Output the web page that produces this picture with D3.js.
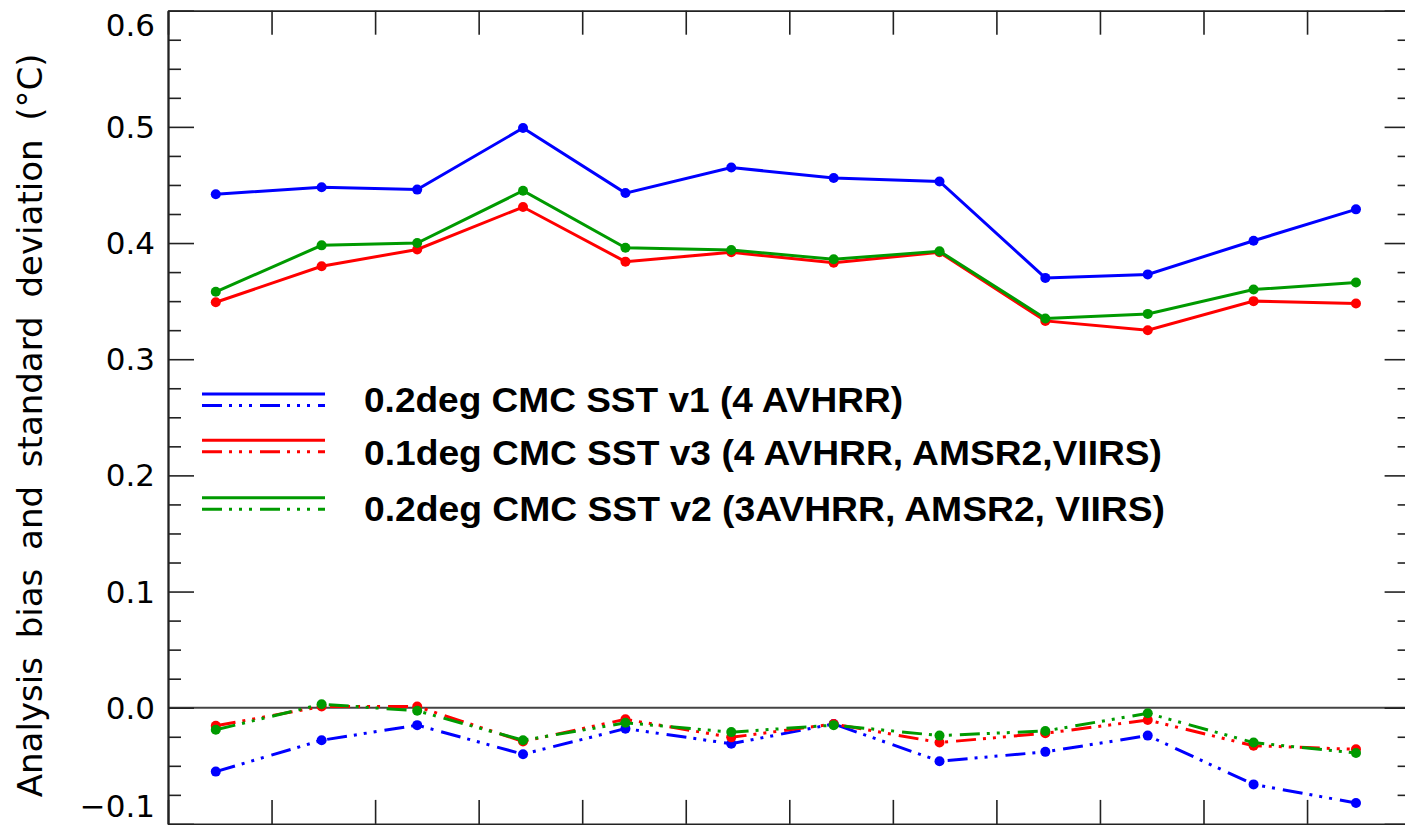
<!DOCTYPE html>
<html>
<head>
<meta charset="utf-8">
<script src="https://cdn.jsdelivr.net/npm/d3@7"></script>
<style>
  html, body { margin: 0; padding: 0; background: #fff; }
  svg { display: block; }
</style>
</head>
<body>
<svg id="chart" width="1405" height="825"></svg>
<script>
// ---- data (day of year of each monthly value) ----
const days = [15, 46, 74, 105, 135, 166, 196, 227, 258, 288, 319, 349];
const stdV1 = [0.442, 0.448, 0.446, 0.499, 0.443, 0.465, 0.456, 0.453, 0.370, 0.373, 0.402, 0.429];
const stdV3 = [0.349, 0.380, 0.3945, 0.431, 0.384, 0.392, 0.383, 0.392, 0.333, 0.325, 0.350, 0.348];
const stdV2 = [0.358, 0.398, 0.400, 0.445, 0.396, 0.394, 0.386, 0.393, 0.335, 0.339, 0.360, 0.366];
const biasV1 = [-0.055, -0.028, -0.015, -0.040, -0.018, -0.031, -0.014, -0.046, -0.038, -0.024, -0.066, -0.082];
const biasV3 = [-0.0155, 0.001, 0.001, -0.029, -0.010, -0.0255, -0.014, -0.030, -0.022, -0.0106, -0.0327, -0.0358];
const biasV2 = [-0.019, 0.003, -0.0026, -0.028, -0.013, -0.021, -0.015, -0.024, -0.020, -0.0048, -0.030, -0.039];
const seriesNames = [
  "0.2deg CMC SST v1 (4 AVHRR)",
  "0.1deg CMC SST v3 (4 AVHRR, AMSR2,VIIRS)",
  "0.2deg CMC SST v2 (3AVHRR, AMSR2, VIIRS)"
];
const yTickValues = [-0.1, 0.0, 0.1, 0.2, 0.3, 0.4, 0.5, 0.6];
const yTitle = "Analysis bias and standard deviation (°C)";

// ---- layout / style ----
const colors = ["#0000ff", "#ff0000", "#009a00"];
const dashPattern = "20,7,3,7,3,7,3,8";
const L = 168, R = 1410.6, T = 10.7, B = 823.9;
const axisColor = "#222";
const legTextWidth = [539, 798, 801];

const svg = d3.select("#chart");
const x = d3.scaleLinear().domain([1, 365]).range([L, R]);
const y = d3.scaleLinear().domain([-0.1, 0.6]).range([B, T]);

const xMajor = d3.range(0, 13).map(k => 1 + k * 364 / 12);
const yMinor = d3.range(-0.1, 0.6001, 0.025);

// zero line
svg.append("line")
  .attr("x1", L).attr("x2", R).attr("y1", y(0)).attr("y2", y(0))
  .attr("stroke", "#444").attr("stroke-width", 2);

// axes (ticks inward)
const minorVals = yMinor.filter((v, i) => i % 4 !== 0);
const gLeft = svg.append("g").attr("transform", `translate(${L},0)`)
  .call(d3.axisRight(y).tickValues(minorVals).tickSize(13).tickSizeOuter(0).tickFormat(""));
const gLeftMaj = svg.append("g").attr("transform", `translate(${L},0)`)
  .call(d3.axisRight(y).tickValues(yTickValues).tickSize(26).tickSizeOuter(0).tickFormat(""));
const gRight = svg.append("g").attr("transform", `translate(${R},0)`)
  .call(d3.axisLeft(y).tickValues(minorVals).tickSize(13).tickSizeOuter(0).tickFormat(""));
const gRightMaj = svg.append("g").attr("transform", `translate(${R},0)`)
  .call(d3.axisLeft(y).tickValues(yTickValues).tickSize(26).tickSizeOuter(0).tickFormat(""));
const gBottom = svg.append("g").attr("transform", `translate(0,${B})`)
  .call(d3.axisTop(x).tickValues(xMajor).tickSize(24).tickSizeOuter(0).tickFormat(""));
const gTop = svg.append("g").attr("transform", `translate(0,${T})`)
  .call(d3.axisBottom(x).tickValues(xMajor).tickSize(24).tickSizeOuter(0).tickFormat(""));
[gLeft, gLeftMaj, gRight, gRightMaj, gBottom, gTop].forEach(g => {
  g.selectAll("line").attr("stroke", axisColor).attr("stroke-width", 1.6);
  g.select(".domain").attr("stroke", axisColor).attr("stroke-width", 1.8);
});

// y tick labels (end labels nudged inside, as in the original)
const labelShift = d => (d >= 0.6 - 1e-9 ? 14 : d <= -0.1 + 1e-9 ? -18 : 0);
svg.append("g").selectAll("text").data(yTickValues).join("text")
  .attr("x", 155).attr("y", d => y(d) + 11 + labelShift(d))
  .attr("text-anchor", "end")
  .attr("font-family", "DejaVu Sans, sans-serif")
  .attr("font-size", 31)
  .attr("fill", "#000")
  .text(d => d3.format(".1f")(d));

// y title
svg.append("text")
  .attr("transform", `translate(42,${(T + B) / 2 + 8}) rotate(-90)`)
  .attr("text-anchor", "middle")
  .attr("font-family", "DejaVu Sans, sans-serif")
  .attr("font-size", 34)
  .attr("word-spacing", 8)
  .attr("fill", "#000")
  .text(yTitle);

// series
const stdSeries = [stdV1, stdV3, stdV2];
const biasSeries = [biasV1, biasV3, biasV2];
const line = d3.line().x((d, i) => x(days[i])).y(d => y(d));
const plot = svg.append("g");
biasSeries.forEach((s, k) => {
  plot.append("path").datum(s).attr("d", line)
    .attr("fill", "none").attr("stroke", colors[k]).attr("stroke-width", 3)
    .attr("stroke-dasharray", dashPattern);
  plot.append("g").selectAll("circle").data(s).join("circle")
    .attr("cx", (d, i) => x(days[i])).attr("cy", d => y(d)).attr("r", 5)
    .attr("fill", colors[k]);
});
stdSeries.forEach((s, k) => {
  plot.append("path").datum(s).attr("d", line)
    .attr("fill", "none").attr("stroke", colors[k]).attr("stroke-width", 3);
  plot.append("g").selectAll("circle").data(s).join("circle")
    .attr("cx", (d, i) => x(days[i])).attr("cy", d => y(d)).attr("r", 5)
    .attr("fill", colors[k]);
});

// legend
const legLineY = [394, 440.3, 497.7];
const legTextY = [412, 465, 521];
const leg = svg.append("g");
seriesNames.forEach((name, k) => {
  leg.append("line").attr("x1", 202).attr("x2", 325)
    .attr("y1", legLineY[k]).attr("y2", legLineY[k])
    .attr("stroke", colors[k]).attr("stroke-width", 3);
  leg.append("line").attr("x1", 202).attr("x2", 325)
    .attr("y1", legLineY[k] + 11.5).attr("y2", legLineY[k] + 11.5)
    .attr("stroke", colors[k]).attr("stroke-width", 3)
    .attr("stroke-dasharray", dashPattern);
  leg.append("text").attr("x", 364).attr("y", legTextY[k])
    .attr("font-family", "Liberation Sans, Arial, sans-serif")
    .attr("font-weight", "bold")
    .attr("font-size", 34.5)
    .attr("textLength", legTextWidth[k])
    .attr("lengthAdjust", "spacingAndGlyphs")
    .attr("fill", "#000")
    .text(name);
});
</script>
</body>
</html>
